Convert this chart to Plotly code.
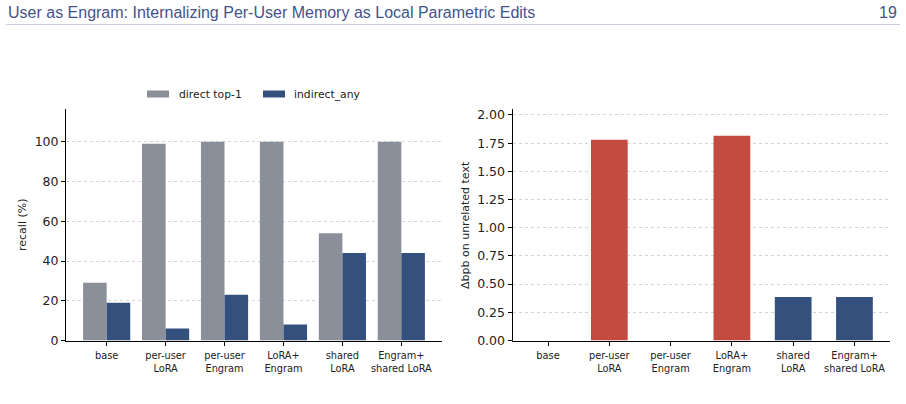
import plotly.graph_objects as go

# ---- data ----
categories = ["base", "per-user<br>LoRA", "per-user<br>Engram", "LoRA+<br>Engram",
              "shared<br>LoRA", "Engram+<br>shared LoRA"]
direct_top1 = [29, 99, 100, 100, 54, 100]
indirect_any = [19, 6, 23, 8, 44, 44]
delta_bpb = [0.0, 1.78, 0.0, 1.815, 0.385, 0.385]
edit_kind = ["none", "per-user", "per-user", "per-user", "shared", "shared"]
recall_ticks = [0, 20, 40, 60, 80, 100]
bpb_ticks = [0.0, 0.25, 0.5, 0.75, 1.0, 1.25, 1.5, 1.75, 2.0]

GRAY = "#8b8f99"
BLUE = "#34517e"
RED = "#c44b40"
kind_color = {"none": BLUE, "per-user": RED, "shared": BLUE}

W, H = 906, 404
def px(x):
    return x / W
def py(y):
    return 1 - y / H

xs = list(range(len(categories)))
FONT = "DejaVu Sans"

fig = go.Figure()
fig.add_trace(go.Bar(x=xs, y=direct_top1, name="direct top-1", marker_color=GRAY,
                     marker_line_width=0, xaxis="x", yaxis="y", showlegend=False))
fig.add_trace(go.Bar(x=xs, y=indirect_any, name="indirect_any", marker_color=BLUE,
                     marker_line_width=0, xaxis="x", yaxis="y", showlegend=False))
fig.add_trace(go.Bar(x=xs, y=delta_bpb, marker_color=[kind_color[k] for k in edit_kind],
                     width=[0.6] * len(xs), marker_line_width=0,
                     xaxis="x2", yaxis="y2", showlegend=False))

ydom = [py(340.5), py(109)]
axis_common = dict(showline=True, linecolor="black", linewidth=1, ticks="outside",
                   ticklen=4, tickwidth=1, tickcolor="black", zeroline=False,
                   automargin=False)
xaxis_common = dict(axis_common, tickmode="array", tickvals=xs, ticktext=categories,
                    showgrid=False, tickfont=dict(family=FONT, size=9.8, color="#222"),
                    ticklabelstandoff=2)
yaxis_common = dict(axis_common, showgrid=True, gridcolor="#d4d4d4", gridwidth=0.7,
                    griddash="dot", tickfont=dict(family=FONT, size=12.5, color="#222"))

fig.update_layout(
    width=W, height=H, margin=dict(l=0, r=0, t=0, b=0, autoexpand=False),
    paper_bgcolor="white", plot_bgcolor="white", showlegend=False,
    barmode="group", bargap=0.2, bargroupgap=0,
    xaxis=dict(xaxis_common, domain=[px(66), px(442)], range=[-0.69, 5.69], anchor="y"),
    yaxis=dict(yaxis_common, domain=ydom, range=[0, 116.5], tickvals=recall_ticks, anchor="x"),
    xaxis2=dict(xaxis_common, domain=[px(512.5), px(890)], range=[-0.58, 5.58], anchor="y2"),
    yaxis2=dict(yaxis_common, domain=ydom, range=[0, 2.053], tickvals=bpb_ticks,
                tickformat=".2f", anchor="x2"),
)

shapes = [
    dict(type="line", xref="paper", yref="paper", x0=px(6), x1=px(900), y0=py(24.5), y1=py(24.5),
         line=dict(color="#c9cde4", width=1)),
    dict(type="rect", xref="paper", yref="paper", x0=px(147), x1=px(169), y0=py(97.5), y1=py(90.5),
         fillcolor=GRAY, line=dict(width=0)),
    dict(type="rect", xref="paper", yref="paper", x0=px(263), x1=px(285), y0=py(97.5), y1=py(90.5),
         fillcolor=BLUE, line=dict(width=0)),
]
annotations = [
    dict(text="User as Engram: Internalizing Per-User Memory as Local Parametric Edits",
         xref="paper", yref="paper", x=px(6), y=py(12), xanchor="left", yanchor="middle",
         showarrow=False, font=dict(family="Liberation Sans", size=16, color="#44538a")),
    dict(text="19", xref="paper", yref="paper", x=px(899), y=py(12), xanchor="right",
         yanchor="middle", showarrow=False,
         font=dict(family="Liberation Sans", size=16, color="#44538a")),
    dict(text="direct top-1", xref="paper", yref="paper", x=px(177), y=py(94), xanchor="left",
         yanchor="middle", showarrow=False, font=dict(family=FONT, size=10.8, color="#222")),
    dict(text="indirect_any", xref="paper", yref="paper", x=px(292), y=py(94), xanchor="left",
         yanchor="middle", showarrow=False, font=dict(family=FONT, size=10.8, color="#222")),
    dict(text="recall (%)", xref="paper", yref="paper", x=px(22), y=py(225), textangle=-90,
         xanchor="center", yanchor="middle", showarrow=False,
         font=dict(family=FONT, size=11, color="#222")),
    dict(text="Δbpb on unrelated text", xref="paper", yref="paper", x=px(465), y=py(225),
         textangle=-90, xanchor="center", yanchor="middle", showarrow=False,
         font=dict(family=FONT, size=11, color="#222")),
]
fig.update_layout(shapes=shapes, annotations=annotations)

fig.write_html("out.html")
